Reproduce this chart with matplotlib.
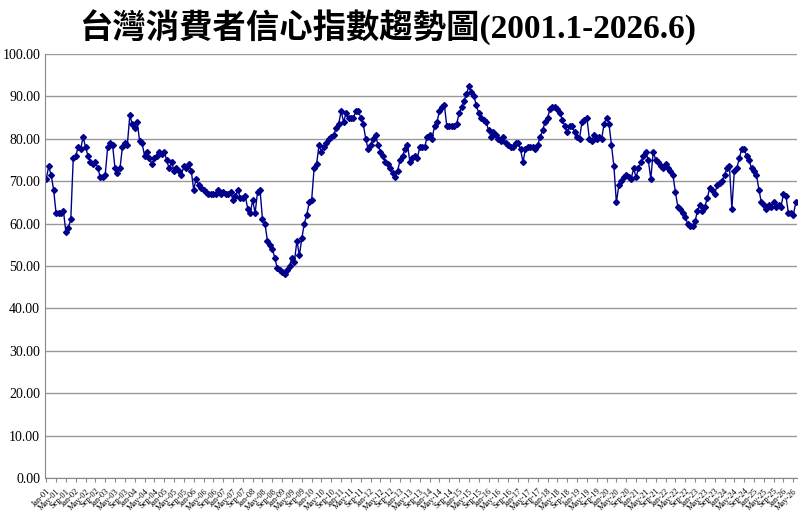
import numpy as np
import matplotlib
matplotlib.use('Agg')
import matplotlib.pyplot as plt
from matplotlib.ticker import FormatStrFormatter

# monthly index, 2001.1 - 2026.6
y2001 = [70.5, 73.5, 71.5, 68, 62.5, 62.5, 62.5, 63, 58, 59, 61, 75.5]
y2002 = [76, 78, 77.5, 80.5, 78, 76, 74.5, 74, 74.5, 73, 71, 71]
y2003 = [71.5, 78, 79, 78.5, 73, 72, 73, 78, 79, 78.5, 85.5, 83.5]
y2004 = [82.5, 84, 79.5, 79, 76, 77, 75.5, 74, 75.5, 76, 77, 76.5]
y2005 = [77, 75, 73, 74.5, 72.5, 73, 72.5, 71.5, 73.5, 73, 74, 72.5]
y2006 = [68, 70.5, 69, 68.5, 68, 67.5, 67, 67, 67, 67, 68, 67]
y2007 = [67.5, 67, 67, 67.5, 65.5, 66.5, 68, 66, 66, 66.5, 63.5, 62.5]
y2008 = [65.5, 62.5, 67.5, 68, 61, 60, 56, 55, 54, 52, 49.5, 49]
y2009 = [48.5, 48, 49, 50, 52, 51, 56, 52.5, 56.5, 60, 62, 65]
y2010 = [65.5, 73, 74, 78.5, 77, 78, 79, 80, 80.5, 81, 82.5, 83.5]
y2011 = [86.5, 84, 86, 85, 85, 85, 86.5, 86.5, 85, 83.5, 80, 77.5]
y2012 = [78.5, 80, 81, 78.5, 77, 76, 74.5, 74, 73, 72, 71, 72.5]
y2013 = [75, 76, 77.5, 78.5, 74.5, 75.5, 76, 75.5, 78, 78, 78, 80.5]
y2014 = [81, 80, 83, 84, 86.5, 87.5, 88, 83, 83, 83, 83, 83.5]
y2015 = [86, 87.5, 89, 90.5, 92.5, 91, 90, 88, 86, 85, 84.5, 84]
y2016 = [82, 80.5, 81.5, 81, 80, 79.5, 80.5, 79, 78.5, 78, 78, 79]
y2017 = [79, 77.5, 74.5, 77.5, 78, 78, 78, 77.5, 78.5, 80.5, 82, 84]
y2018 = [85, 87, 87.5, 87.5, 87, 86, 84.5, 83, 81.5, 83, 83, 81.5]
y2019 = [80.5, 80, 84, 84.5, 85, 80, 79.5, 81, 80, 80.5, 80, 83.5]
y2020 = [85, 83.5, 78.5, 73.5, 65, 69, 70, 71, 71.5, 71, 70.5, 73]
y2021 = [71, 73, 74.5, 76, 77, 75, 70.5, 77, 75, 74.5, 73.5, 73]
y2022 = [74, 73, 72.5, 71.5, 67.5, 64, 63.5, 62.5, 61.5, 60, 59.5, 59.5]
y2023 = [60.5, 63, 64.5, 63, 64, 66, 68.5, 68, 67, 69, 69.5, 70]
y2024 = [71.5, 73, 73.5, 63.5, 72.5, 73, 75.5, 77.5, 77.5, 76, 75, 73]
y2025 = [72.5, 71.5, 68, 65, 64.5, 63.5, 64.5, 64, 65, 64, 64.5, 64]
y2026 = [67, 66.5, 62.5, 62.5, 62, 65]

values = (y2001 + y2002 + y2003 + y2004 + y2005 + y2006 + y2007 + y2008 + y2009
          + y2010 + y2011 + y2012 + y2013 + y2014 + y2015 + y2016 + y2017 + y2018
          + y2019 + y2020 + y2021 + y2022 + y2023 + y2024 + y2025 + y2026)
months = ['Jan', 'Feb', 'Mar', 'Apr', 'May', 'Jun', 'Jul', 'Aug',
          'Sep', 'Oct', 'Nov', 'Dec']

n = len(values)
x = np.arange(n)
ticks = list(range(0, n, 4))
labels = ['%s-%02d' % (months[i % 12], (2001 + i // 12) % 100) for i in ticks]

fig = plt.figure(figsize=(8, 5.17), dpi=100)
ax = fig.add_axes([45/800, 1 - 478/517, 752/800, 424/517])
ax.plot(x, values, color='#00008B', lw=1.0, marker='D', ms=3.0)
ax.set_xlim(-0.5, n - 0.5)
ax.set_ylim(0, 100)
ax.set_yticks(np.arange(0, 101, 10))
ax.yaxis.set_major_formatter(FormatStrFormatter('%.2f'))
ax.yaxis.grid(True, color='#999999', lw=1)
ax.set_axisbelow(True)
ax.set_xticks(ticks)
ax.set_xticklabels(labels, rotation=45, ha='right', fontsize=6,
                   family='Liberation Serif', rotation_mode='anchor')
for lab in ax.get_yticklabels():
    lab.set_family('Liberation Serif')
    lab.set_fontsize(10)
for s in ['top', 'right']:
    ax.spines[s].set_visible(False)
ax.spines['left'].set_color('#888888')
ax.spines['bottom'].set_color('#888888')
ax.tick_params(axis='y', length=0)
ax.tick_params(axis='x', length=3, color='#888888')

fig.text(0.485, 0.945, '台灣消費者信心指數趨勢圖(2001.1-2026.6)', ha='center', va='center',
         fontsize=24, fontweight='bold', family=['Liberation Serif', 'Noto Sans CJK TC'])

fig.savefig('out.png', dpi=100)
